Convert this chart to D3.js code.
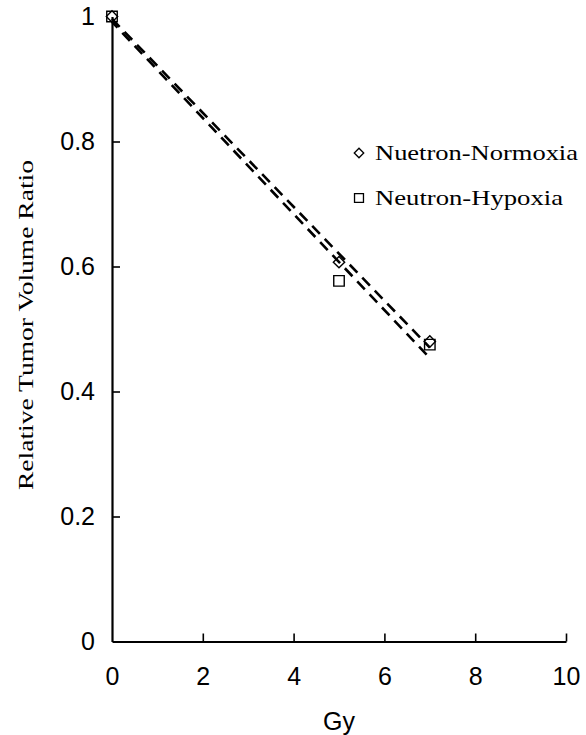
<!DOCTYPE html>
<html>
<head>
<meta charset="utf-8">
<script src="https://d3js.org/d3.v7.min.js"></script>
<style>
  html, body { margin: 0; padding: 0; background: #fff; }
  svg { display: block; }
</style>
</head>
<body>
<svg id="chart" width="586" height="735"></svg>
<script>
// ---- data ----
const doses = [0, 5, 7];
const normoxiaValues = [1.0, 0.607, 0.48];
const hypoxiaValues = [1.0, 0.577, 0.475];
const seriesNames = ["Nuetron-Normoxia", "Neutron-Hypoxia"];
const xTickValues = [0, 2, 4, 6, 8, 10];
const yTickValues = [0, 0.2, 0.4, 0.6, 0.8, 1];
const yTickLabels = ["0", "0.2", "0.4", "0.6", "0.8", "1"];
const xTitle = "Gy";
const yTitle = "Relative Tumor Volume Ratio";

const svg = d3.select("#chart");
svg.append("rect").attr("width", 586).attr("height", 735).attr("fill", "#fff");

const x = d3.scaleLinear().domain([0, 10]).range([112, 566]);
const y = d3.scaleLinear().domain([0, 1]).range([641.5, 16.5]);

// linear trendline (least squares) from each series
function fit(xs, ys) {
  const n = xs.length;
  const mx = d3.mean(xs), my = d3.mean(ys);
  let sxy = 0, sxx = 0;
  for (let i = 0; i < n; i++) { sxy += (xs[i]-mx)*(ys[i]-my); sxx += (xs[i]-mx)*(xs[i]-mx); }
  const b = sxy / sxx;
  const a = my - b * mx;
  return xv => a + b * xv;
}

const sansFont = "'Liberation Sans', Arial, sans-serif";
const serifFont = "'Liberation Serif', 'Times New Roman', serif";

// axes
const xAxis = d3.axisBottom(x).tickValues(xTickValues).tickSizeInner(-8).tickSizeOuter(0).tickPadding(26)
  .tickFormat(d3.format("d"));
const gx = svg.append("g").attr("transform", `translate(0,${y(0)})`).call(xAxis);
gx.select(".domain").attr("stroke-width", 2.2);
gx.selectAll(".tick line").attr("stroke-width", 1.6).filter(d => d === 0).remove();
gx.selectAll(".tick text").attr("font-family", sansFont).attr("font-size", 25).attr("fill", "#000");

const yAxis = d3.axisLeft(y).tickValues(yTickValues).tickSizeInner(-8).tickSizeOuter(0).tickPadding(17)
  .tickFormat((d, i) => yTickLabels[i]);
const gy = svg.append("g").attr("transform", `translate(${x(0)},0)`).call(yAxis);
gy.select(".domain").attr("stroke-width", 2.2);
gy.selectAll(".tick line").attr("stroke-width", 1.6).filter(d => d === 0 || d === 1).remove();
gy.selectAll(".tick text").attr("font-family", sansFont).attr("font-size", 25).attr("fill", "#000");

// axis titles
svg.append("text").attr("x", x(5)).attr("y", 730).attr("text-anchor", "middle")
  .attr("font-family", sansFont).attr("font-size", 25).text(xTitle);

svg.append("text")
  .attr("transform", "translate(33,325) rotate(-90)")
  .attr("text-anchor", "middle")
  .attr("font-family", serifFont).attr("font-size", 22)
  .attr("textLength", 330).attr("lengthAdjust", "spacingAndGlyphs")
  .text(yTitle);

// trendlines
const series = [
  { name: seriesNames[0], values: normoxiaValues, diamond: true },
  { name: seriesNames[1], values: hypoxiaValues, diamond: false }
];
series.forEach((s, si) => {
  const f = fit(doses, s.values);
  const xs = [d3.min(doses), d3.max(doses)];
  svg.append("line")
    .attr("x1", x(xs[0])).attr("y1", y(f(xs[0])))
    .attr("x2", x(xs[1])).attr("y2", y(f(xs[1])))
    .attr("stroke", "#000").attr("stroke-width", 2.6)
    .attr("stroke-dasharray", "11,7")
    .attr("stroke-dashoffset", si * 3);
});

// markers (diamond = square rotated 45deg)
series.forEach(s => {
  const sym = d3.symbol().type(d3.symbolSquare).size(s.diamond ? 64 : 110);
  svg.append("g").selectAll("path").data(doses.map((d, i) => [d, s.values[i]]))
    .join("path")
    .attr("transform", d => `translate(${x(d[0])},${y(d[1])})` + (s.diamond ? " rotate(45)" : ""))
    .attr("d", sym)
    .attr("fill", "none").attr("stroke", "#000").attr("stroke-width", 1.4);
});

// legend
const legendRows = [
  { name: seriesNames[0], diamond: true, cy: 153, len: 203 },
  { name: seriesNames[1], diamond: false, cy: 198, len: 188 }
];
legendRows.forEach(r => {
  svg.append("path")
    .attr("transform", `translate(359,${r.cy})` + (r.diamond ? " rotate(45)" : ""))
    .attr("d", d3.symbol().type(d3.symbolSquare).size(r.diamond ? 45 : 80)())
    .attr("fill", "none").attr("stroke", "#000").attr("stroke-width", 1.3);
  svg.append("text").attr("x", 375).attr("y", r.cy + 7)
    .attr("font-family", serifFont).attr("font-size", 21)
    .attr("textLength", r.len).attr("lengthAdjust", "spacingAndGlyphs")
    .text(r.name);
});
</script>
</body>
</html>
